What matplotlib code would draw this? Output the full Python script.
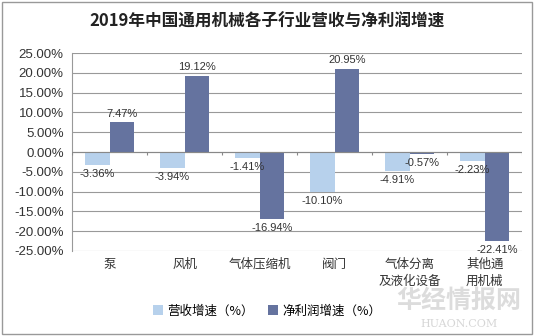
import matplotlib.pyplot as plt
import numpy as np
from matplotlib.patches import Rectangle

plt.rcParams['font.family'] = ['Noto Sans CJK SC', 'DejaVu Sans']

categories = ['泵', '风机', '气体压缩机', '阀门', '气体分离\n及液化设备', '其他通\n用机械']
revenue = [-3.36, -3.94, -1.41, -10.10, -4.91, -2.23]
profit = [7.47, 19.12, -16.94, 20.95, -0.57, -22.41]
yticks = [25, 20, 15, 10, 5, 0, -5, -10, -15, -20, -25]

c_rev = '#B7D1EC'
c_pro = '#65739F'
num_font = ['Liberation Sans', 'DejaVu Sans']

fig = plt.figure(figsize=(5.34, 3.36), dpi=100)
ax = fig.add_axes([0.135, 0.253, 0.843, 0.589])

x = np.arange(len(categories))
w = 0.33
ax.bar(x - w / 2, revenue, w, color=c_rev, label='营收增速（%）', zorder=3)
ax.bar(x + w / 2, profit, w, color=c_pro, label='净利润增速（%）', zorder=3)

for xi, v in zip(x - w / 2, revenue):
    ax.text(xi, v - 1.0, '%.2f%%' % v, ha='center', va='top', fontsize=8, color='#333333',
            family=num_font)
for xi, v in zip(x + w / 2, profit):
    if v >= 0:
        ax.text(xi, v + 1.0, '%.2f%%' % v, ha='center', va='bottom', fontsize=8, color='#333333',
                family=num_font)
    else:
        ax.text(xi, v - 1.0, '%.2f%%' % v, ha='center', va='top', fontsize=8, color='#333333',
                family=num_font)

ax.set_ylim(-25, 25)
ax.set_xlim(-0.5, len(categories) - 0.5)
ax.set_yticks(yticks)
ax.set_yticklabels(['%.2f%%' % t for t in yticks], fontsize=9.5, color='#333333', family=num_font)
ax.yaxis.grid(True, color='#999999', linewidth=0.8, zorder=0)
ax.set_xticks(x)
ax.set_xticklabels(categories, fontsize=9, color='#333333', linespacing=1.4, va='top')
ax.tick_params(axis='x', length=0, pad=5)
ax.tick_params(axis='y', length=0, pad=6)
for s in ['top', 'right', 'bottom']:
    ax.spines[s].set_visible(False)
ax.spines['left'].set_color('#999999')
ax.axhline(0, color='#888888', linewidth=0.8, zorder=4)
ax.vlines(np.arange(len(categories) + 1) - 0.5, -0.8, 0, color='#888888', linewidth=0.8, zorder=4)

fig.text(0.5, 0.935, '2019年中国通用机械各子行业营收与净利润增速', ha='center', va='center',
         fontsize=12, fontweight='bold', color='#222222')

fig.legend(loc='center', bbox_to_anchor=(0.5, 0.075), ncol=2, frameon=False, fontsize=9,
           handlelength=0.8, handleheight=0.8, columnspacing=1.2, handletextpad=0.3)

fig.text(0.86, 0.105, '华经情报网', ha='center', va='center', fontsize=18, fontweight='bold',
         color='#bbbbbb', alpha=0.5)
fig.text(0.86, 0.035, 'HUAON.COM', ha='center', va='center', fontsize=8, family='DejaVu Serif',
         color='#bbbbbb', alpha=0.6)

fig.patches.append(Rectangle((0.004, 0.006), 0.992, 0.988, transform=fig.transFigure,
                             fill=False, edgecolor='#999999', linewidth=1))

fig.savefig('out.png', dpi=100)
